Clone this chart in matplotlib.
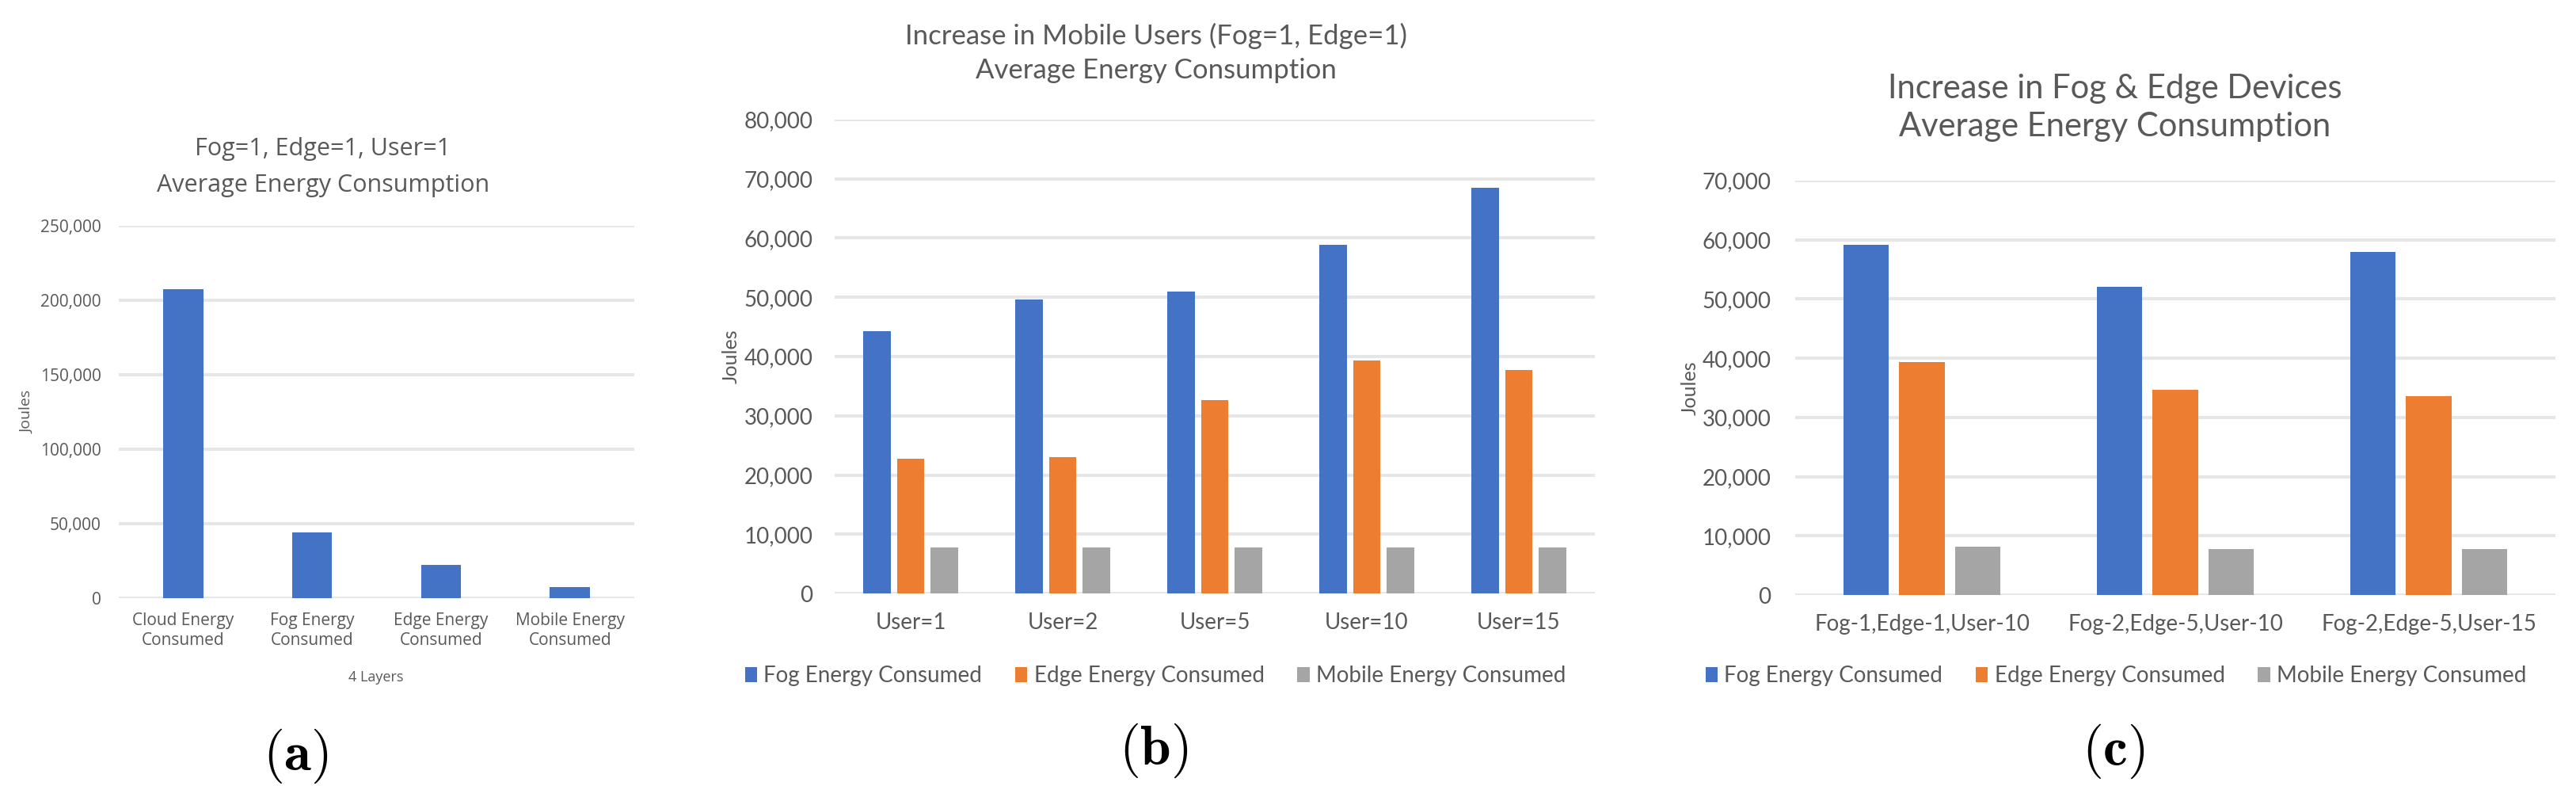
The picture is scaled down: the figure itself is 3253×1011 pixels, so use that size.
import matplotlib
matplotlib.use("Agg")
import matplotlib.pyplot as plt
from matplotlib.ticker import StrMethodFormatter
import numpy as np

plt.rcParams['mathtext.fontset'] = 'cm'

# (a) four layers, Fog=1, Edge=1, User=1
layers = ["Cloud Energy\nConsumed", "Fog Energy\nConsumed", "Edge Energy\nConsumed", "Mobile Energy\nConsumed"]
layer_energy = [207500, 44300, 22500, 7700]

# (b) increase in mobile users
users = ["User=1", "User=2", "User=5", "User=10", "User=15"]
b_fog = [44300, 49600, 51000, 58900, 68500]
b_edge = [22700, 23000, 32700, 39300, 37700]
b_mobile = [7700, 7700, 7700, 7700, 7700]

# (c) increase in fog & edge devices
setups = ["Fog-1,Edge-1,User-10", "Fog-2,Edge-5,User-10", "Fog-2,Edge-5,User-15"]
c_fog = [59200, 52000, 57900]
c_edge = [39300, 34700, 33600]
c_mobile = [8100, 7750, 7750]

series_names = ["Fog Energy Consumed", "Edge Energy Consumed", "Mobile Energy Consumed"]
colors = ["#4472C4", "#ED7D31", "#A5A5A5"]
txt = "#595959"
grid = "#E6E6E6"

W, H = 3253, 1011
fig = plt.figure(figsize=(W / 100, H / 100), dpi=100)


def box(x0, y_top, x1, y_bot):
    return [x0 / W, 1 - y_bot / H, (x1 - x0) / W, (y_bot - y_top) / H]


def style_axes(ax, ymax, step, font, size, pad_y, pad_x):
    ax.set_ylim(0, ymax)
    ax.set_yticks(np.arange(0, ymax + 1, step))
    ax.yaxis.set_major_formatter(StrMethodFormatter('{x:,.0f}'))
    ax.grid(axis='y', color=grid, linewidth=2.9, zorder=0)
    ax.set_axisbelow(True)
    for s in ax.spines.values():
        s.set_visible(False)
    ax.tick_params(axis='both', length=0, colors=txt, labelsize=size)
    ax.tick_params(axis='y', pad=pad_y)
    ax.tick_params(axis='x', pad=pad_x)
    for lab in ax.get_xticklabels() + ax.get_yticklabels():
        lab.set_fontfamily(font)


def grouped(ax, cats, data):
    x = np.arange(len(cats))
    for i, (vals, name, c) in enumerate(zip(data, series_names, colors)):
        ax.bar(x + (i - 1) * 0.22, vals, width=0.18, color=c, label=name, zorder=2)
    ax.set_xticks(x)
    ax.set_xticklabels(cats)
    ax.set_xlim(-0.5, len(cats) - 0.5)


# panel (a)
ax1 = fig.add_axes(box(150, 285, 801, 755))
x = np.arange(len(layers))
ax1.bar(x, layer_energy, width=0.31, color=colors[0], zorder=2)
ax1.set_xticks(x)
ax1.set_xticklabels(layers, linespacing=1.25)
ax1.set_xlim(-0.5, len(layers) - 0.5)
style_axes(ax1, 250000, 50000, 'Open Sans', 15, 16, 13)
fig.text(408 / W, 1 - 188 / H, "Fog=1, Edge=1, User=1", ha='center', va='center',
         fontsize=22, color=txt, family='Open Sans')
fig.text(408 / W, 1 - 234 / H, "Average Energy Consumption", ha='center', va='center',
         fontsize=22, color=txt, family='Open Sans')
fig.text(34 / W, 1 - 520 / H, "Joules", rotation=90, ha='center', va='center',
         fontsize=14, color=txt, family='Open Sans')
fig.text(475 / W, 1 - 855 / H, "4 Layers", ha='center', va='center',
         fontsize=13, color=txt, family='Open Sans')

# panel (b)
ax2 = fig.add_axes(box(1054, 151, 2014, 749))
grouped(ax2, users, [b_fog, b_edge, b_mobile])
style_axes(ax2, 80000, 10000, 'Lato', 20, 20, 17)
fig.text(1460 / W, 1 - 45 / H, "Increase in Mobile Users (Fog=1, Edge=1)", ha='center', va='center',
         fontsize=25, color=txt, family='Lato')
fig.text(1460 / W, 1 - 89 / H, "Average Energy Consumption", ha='center', va='center',
         fontsize=25, color=txt, family='Lato')
fig.text(923 / W, 1 - 450 / H, "Joules", rotation=90, ha='center', va='center',
         fontsize=18, color=txt, family='Lato')
ax2.legend(loc='center', bbox_to_anchor=(1459 / W, 1 - 853 / H), bbox_transform=fig.transFigure,
           ncol=3, frameon=False, prop={'family': 'Lato', 'size': 20}, labelcolor=txt,
           handlelength=0.55, handleheight=0.7, handletextpad=0.3, columnspacing=1.5)

# panel (c)
ax3 = fig.add_axes(box(2267, 228, 3227, 751))
grouped(ax3, setups, [c_fog, c_edge, c_mobile])
style_axes(ax3, 70000, 10000, 'Lato', 20, 22, 17)
fig.text(2671 / W, 1 - 112 / H, "Increase in Fog & Edge Devices", ha='center', va='center',
         fontsize=30, color=txt, family='Lato')
fig.text(2671 / W, 1 - 160 / H, "Average Energy Consumption", ha='center', va='center',
         fontsize=30, color=txt, family='Lato')
fig.text(2134 / W, 1 - 490 / H, "Joules", rotation=90, ha='center', va='center',
         fontsize=18, color=txt, family='Lato')
ax3.legend(loc='center', bbox_to_anchor=(2672 / W, 1 - 853 / H), bbox_transform=fig.transFigure,
           ncol=3, frameon=False, prop={'family': 'Lato', 'size': 20}, labelcolor=txt,
           handlelength=0.55, handleheight=0.7, handletextpad=0.3, columnspacing=1.5)

# sub-figure labels
for xc, yc, s in [(373, 954, "(a)"), (1457, 947, "(b)"), (2669, 948, "(c)")]:
    fig.text(xc / W, 1 - yc / H, r"$\mathbf{" + s + "}$", ha='center', va='center', fontsize=50)

fig.savefig("out.png", dpi=100)
